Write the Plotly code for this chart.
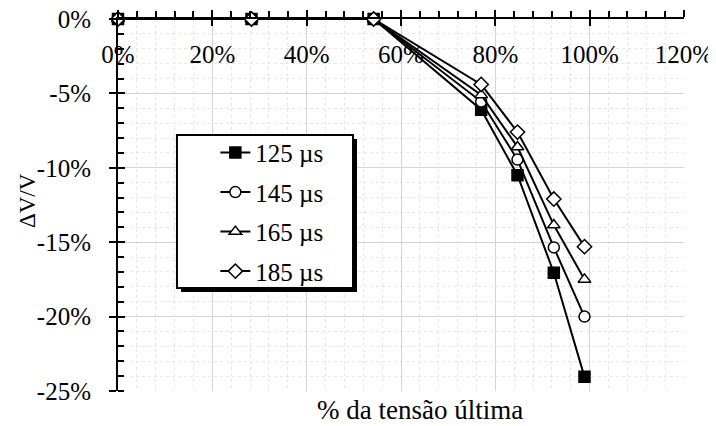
import plotly.graph_objects as go

# % da tensão última
tensao = [0, 28.3, 54.2, 77.0, 84.7, 92.4, 98.9]

# ΔV/V (%) por tempo
dv_125 = [0, 0, 0, -6.1, -10.5, -17.05, -24.05]
dv_145 = [0, 0, 0, -5.55, -9.45, -15.35, -20.0]
dv_165 = [0, 0, 0, -5.1, -8.6, -13.85, -17.5]
dv_185 = [0, 0, 0, -4.4, -7.6, -12.1, -15.3]

# rotulos dos eixos
x_ticks = [0, 20, 40, 60, 80, 100, 120]
x_labels = ["0%", "20%", "40%", "60%", "80%", "100%", "120%"]
y_ticks = [0, -5, -10, -15, -20, -25]
y_labels = ["0%", "-5%", "-10%", "-15%", "-20%", "-25%"]

series = [
    ("125 µs", dv_125, "square", "black", 11),
    ("145 µs", dv_145, "circle", "white", 11),
    ("165 µs", dv_165, "triangle-up", "white", 11),
    ("185 µs", dv_185, "diamond", "white", 11),
]

FONT = "Liberation Serif, Times New Roman, serif"

fig = go.Figure()

for i, (nome, vals, simb, cor, tam) in enumerate(series):
    fig.add_trace(go.Scatter(
        x=tensao, y=vals, name=nome, mode="lines+markers",
        line=dict(color="black", width=2),
        marker=dict(symbol=simb, size=tam, color=cor,
                    line=dict(color="black", width=1.5)),
        cliponaxis=False, legendgroup=str(i),
    ))

# eixos auxiliares (tracos internos e rotulos de x abaixo da linha do topo)
fig.add_trace(go.Scatter(x=[], y=[], xaxis="x2", yaxis="y2", showlegend=False))
fig.add_trace(go.Scatter(x=[], y=[], xaxis="x3", yaxis="y", showlegend=False))

grid_major = "#d4d4d4"
grid_minor = "#e6e6e6"

# a pagina tem 8px de margem no body
fig.update_layout(
    width=708, height=418,
    margin=dict(l=110, r=32, t=11, b=35),
    paper_bgcolor="white", plot_bgcolor="white",
    font=dict(family=FONT, size=25, color="black"),
    showlegend=True,
    legend=dict(x=0.172, y=0.702, xanchor="left", yanchor="top",
                bgcolor="rgba(0,0,0,0)", borderwidth=0,
                font=dict(size=25), tracegroupgap=4,
                traceorder="grouped"),
    xaxis=dict(
        range=[0, 120], tickvals=x_ticks, side="top", anchor="y",
        automargin=False, showticklabels=False,
        showline=True, linecolor="black", linewidth=2,
        ticks="outside", ticklen=7, tickwidth=2, tickcolor="black",
        showgrid=True, gridcolor=grid_major, gridwidth=1,
        zeroline=False,
        minor=dict(dtick=4, ticks="outside", ticklen=6, tickwidth=1.5,
                   tickcolor="black", showgrid=True, gridcolor=grid_minor,
                   griddash="dot"),
    ),
    xaxis2=dict(
        overlaying="x", matches="x", side="top", anchor="y", automargin=False,
        range=[0, 120], tickvals=x_ticks, ticks="inside", ticklen=7,
        tickwidth=2, tickcolor="black", showticklabels=False,
        showgrid=False, zeroline=False, showline=False,
    ),
    xaxis3=dict(
        overlaying="x", matches="x", side="bottom", anchor="free",
        position=1, automargin=False,
        range=[0, 120], tickvals=x_ticks, ticktext=x_labels, ticks="",
        ticklabelstandoff=18, ticklabeloverflow="allow",
        showgrid=False, zeroline=False, showline=False,
    ),
    yaxis=dict(
        range=[-25, 0], tickvals=y_ticks, ticktext=y_labels, anchor="x",
        automargin=False, ticklabelstandoff=13, ticklabeloverflow="allow",
        showline=True, linecolor="black", linewidth=2,
        ticks="outside", ticklen=7, tickwidth=2, tickcolor="black",
        showgrid=True, gridcolor=grid_major, gridwidth=1,
        zeroline=False,
        minor=dict(dtick=1, ticks="inside", ticklen=6, tickwidth=1.5,
                   tickcolor="black", showgrid=True, gridcolor=grid_minor,
                   griddash="dot"),
    ),
    yaxis2=dict(
        overlaying="y", matches="y", side="left", anchor="x", automargin=False,
        range=[-25, 0], tickvals=y_ticks, ticks="inside", ticklen=7,
        tickwidth=2, tickcolor="black", showticklabels=False,
        showgrid=False, zeroline=False, showline=False,
    ),
    shapes=[
        dict(type="rect", xref="paper", yref="paper", layer="above",
             x0=0.1113, x1=0.4223, y0=0.2661, y1=0.6774,
             fillcolor="black", line=dict(width=0)),
        dict(type="rect", xref="paper", yref="paper", layer="above",
             x0=0.1042, x1=0.4152, y0=0.2769, y1=0.688,
             fillcolor="white", line=dict(color="black", width=2)),
    ],
    annotations=[
        dict(text="% da tensão última", xref="paper", yref="paper",
             x=0.534, y=-0.052, xanchor="center", yanchor="middle",
             showarrow=False, font=dict(size=27)),
        dict(text="ΔV/V", xref="paper", yref="paper", textangle=-90,
             x=-0.161, y=0.513, xanchor="center", yanchor="middle",
             showarrow=False, font=dict(size=23)),
    ],
)

fig.write_html("out.html")
